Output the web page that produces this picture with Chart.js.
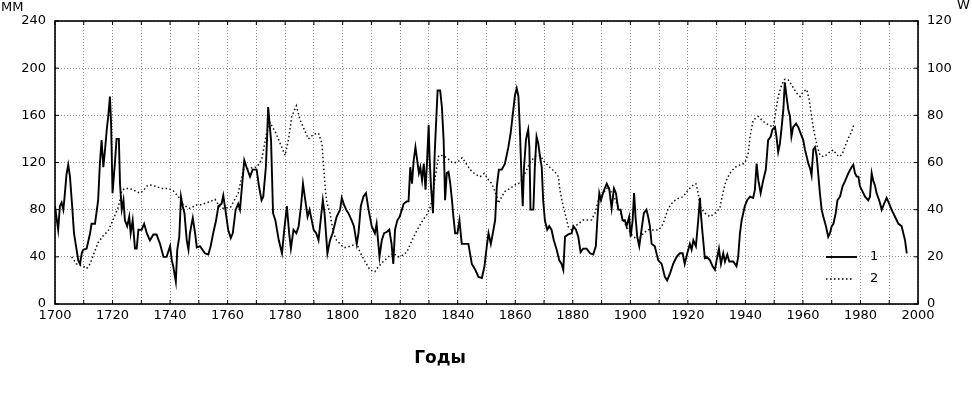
<!DOCTYPE html>
<html>
<head>
<meta charset="utf-8">
<script src="https://cdn.jsdelivr.net/npm/chart.js@4.4.1/dist/chart.umd.min.js"></script>
<style>
  html, body { margin: 0; padding: 0; background: #fff; }
  #wrap { width: 972px; height: 394px; position: relative; }
</style>
</head>
<body>
<div id="wrap"><canvas id="chart"></canvas></div>
<script>
// series 1, MM (left axis)
var years1 = [1700.0,1701.1,1701.7,1702.3,1702.9,1703.3,1704.0,1704.6,1705.2,1706.0,1706.6,1707.3,1708.1,1708.7,1709.3,1709.8,1711.0,1712.2,1712.7,1713.9,
  1715.0,1715.6,1716.2,1716.8,1717.4,1718.0,1718.5,1719.1,1719.5,1720.0,1720.9,1721.4,1722.2,1722.6,1723.2,1723.8,1724.3,1725.1,1725.8,1726.3,
  1727.0,1727.8,1728.4,1729.0,1730.1,1731.0,1731.9,1733.0,1734.2,1735.3,1736.5,1737.7,1738.8,1740.0,1740.6,1741.1,1742.0,1742.5,1743.2,1743.8,
  1744.4,1745.0,1745.8,1746.4,1746.9,1747.9,1748.7,1749.3,1750.4,1752.1,1753.3,1754.1,1755.0,1756.0,1756.8,1757.9,1758.5,1759.4,1760.2,1761.1,
  1761.8,1762.8,1763.7,1764.3,1764.9,1765.8,1766.6,1767.8,1768.7,1770.1,1770.9,1771.8,1772.4,1773.3,1773.7,1774.1,1774.7,1775.1,1775.8,1776.6,
  1777.8,1778.9,1779.7,1780.6,1781.4,1782.0,1782.9,1783.9,1784.7,1785.6,1786.2,1787.0,1787.8,1788.5,1789.9,1790.8,1791.6,1793.1,1793.7,1794.7,
  1795.6,1796.5,1797.9,1799.1,1799.7,1800.5,1801.2,1802.0,1803.1,1803.9,1804.9,1805.5,1806.3,1807.2,1808.1,1809.0,1810.1,1811.2,1811.8,1812.8,
  1813.6,1814.4,1815.3,1816.2,1817.0,1817.6,1818.2,1819.0,1819.8,1820.6,1821.2,1822.3,1822.9,1823.5,1824.1,1824.7,1825.3,1825.9,1826.5,1827.0,
  1827.6,1828.2,1828.8,1829.3,1829.9,1830.2,1830.7,1831.4,1832.0,1832.5,1833.0,1833.9,1834.5,1835.1,1835.6,1836.2,1836.8,1837.4,1838.0,1838.5,
  1839.1,1839.9,1840.6,1841.4,1842.6,1843.7,1844.9,1846.1,1847.2,1848.4,1849.3,1850.1,1850.7,1851.5,1852.2,1853.0,1853.6,1854.3,1855.3,1856.4,
  1857.6,1858.4,1859.1,1859.9,1860.5,1861.1,1861.6,1862.2,1862.6,1863.0,1863.7,1864.2,1864.5,1864.9,1865.3,1866.3,1866.8,1867.4,1868.0,1868.6,
  1869.2,1869.7,1870.3,1871.1,1871.8,1872.6,1873.4,1874.4,1875.3,1876.1,1876.7,1877.3,1878.4,1879.6,1880.2,1881.1,1881.9,1882.7,1883.6,1884.8,
  1886.0,1887.1,1888.0,1888.6,1889.2,1889.8,1890.6,1891.8,1892.7,1893.5,1894.3,1895.0,1895.8,1896.6,1897.3,1898.1,1898.7,1899.6,1900.1,1900.8,
  1901.3,1901.8,1902.4,1903.1,1903.9,1904.7,1905.6,1906.2,1906.8,1907.4,1908.5,1909.7,1910.9,1912.0,1912.8,1913.8,1914.9,1916.1,1917.2,1918.2,
  1918.9,1919.8,1920.7,1921.3,1921.9,1922.8,1923.6,1924.2,1924.5,1925.1,1925.9,1926.5,1927.7,1928.6,1929.4,1930.0,1930.8,1931.5,1932.3,1932.9,
  1933.7,1934.4,1935.8,1936.9,1937.5,1938.1,1938.7,1939.8,1940.6,1941.6,1942.7,1943.3,1943.9,1944.5,1945.3,1946.2,1947.1,1947.9,1948.8,1949.4,
  1950.3,1950.8,1951.4,1952.0,1952.6,1953.2,1953.7,1954.3,1954.9,1955.5,1956.0,1956.6,1957.6,1958.4,1959.0,1960.1,1960.7,1961.9,1962.5,1963.0,
  1963.6,1964.2,1964.8,1965.3,1965.9,1966.5,1967.1,1968.0,1968.8,1969.4,1970.0,1970.6,1971.4,1972.0,1972.9,1973.8,1974.6,1975.8,1976.9,1977.5,
  1978.1,1978.7,1979.3,1979.8,1980.4,1981.6,1982.7,1983.3,1983.9,1984.5,1985.0,1985.6,1986.5,1987.4,1988.2,1989.1,1990.0,1990.8,1992.0,1993.2,
  1994.3,1994.9,1995.5,1996.1];
var mm1 = [83,63,83,86,80,90,110,118,108,82,60,49,37,34,43,46,47,60,68,68,
  88,119,139,116,131,148,159,176,153,94,122,140,140,102,80,88,71,66,74,60,
  71,47,47,63,63,68,60,54,59,59,51,40,40,49,37,32,19,46,57,91,
  83,77,54,46,60,73,60,48,49,43,42,49,60,71,83,85,92,77,63,56,
  60,80,85,80,97,122,116,108,114,114,100,88,91,116,139,167,150,139,77,71,
  54,43,63,83,60,47,63,60,66,85,102,88,74,80,63,60,54,88,77,43,
  54,60,74,80,90,84,80,77,71,66,51,60,83,91,94,80,66,60,68,40,
  54,60,61,63,51,34,63,71,74,80,85,87,87,116,102,122,133,122,111,116,
  105,119,97,119,152,125,100,77,128,155,181,181,167,139,88,111,112,102,88,74,
  60,60,71,51,51,51,34,29,23,22,32,49,60,51,60,71,100,114,114,119,
  133,145,160,177,183,176,148,105,83,114,139,145,148,133,80,80,116,142,136,125,
  116,88,71,63,66,63,54,46,37,34,29,57,59,60,66,63,57,44,47,47,
  43,42,49,74,94,88,95,102,97,81,98,94,80,80,71,71,66,74,57,71,
  94,74,57,49,63,77,80,74,66,51,49,37,34,23,20,26,34,40,43,43,
  34,43,51,46,54,49,71,90,77,60,39,40,37,32,29,37,47,34,43,36,
  42,36,36,32,40,60,71,83,88,91,90,97,119,105,94,105,114,139,142,148,
  150,142,129,136,150,165,188,176,165,159,142,150,153,150,146,139,131,119,115,109,
  131,133,125,111,94,80,74,66,57,60,66,68,77,88,91,100,104,111,116,118,
  111,108,108,100,97,91,88,91,111,104,101,94,88,80,85,90,85,80,74,68,
  66,60,54,43];

// series 2, W (right axis)
var years2 = [1705.8,1707.5,1709.8,1711.0,1712.2,1713.4,1715.0,1716.8,1718.5,1720.3,1722.0,1723.2,1724.3,1726.0,1727.8,1729.5,1730.7,1731.9,1733.0,1734.7,
  1737.0,1739.4,1741.1,1742.9,1744.6,1746.9,1749.2,1750.4,1753.9,1755.6,1757.4,1758.5,1761.0,1763.7,1765.5,1767.8,1770.1,1771.8,1773.5,1774.7,
  1776.6,1778.3,1780.0,1781.2,1782.3,1783.9,1785.2,1787.0,1788.1,1789.9,1791.6,1792.8,1793.4,1794.0,1794.5,1795.6,1796.8,1797.9,1800.3,1801.4,
  1803.7,1804.9,1806.0,1807.8,1809.5,1811.2,1812.4,1814.1,1815.9,1817.6,1819.3,1820.5,1822.3,1824.1,1825.9,1827.6,1829.3,1830.5,1831.1,1832.2,
  1833.4,1834.6,1836.3,1838.0,1839.8,1841.5,1842.7,1844.3,1846.1,1847.8,1849.2,1850.7,1851.9,1852.7,1853.6,1854.1,1855.3,1856.4,1858.2,1859.9,
  1861.1,1862.2,1864.0,1865.1,1866.8,1868.6,1870.3,1872.0,1873.8,1875.0,1875.5,1876.7,1877.6,1878.4,1879.6,1880.7,1881.9,1883.6,1886.5,1887.7,
  1888.9,1890.6,1892.3,1894.1,1895.8,1897.5,1899.3,1901.0,1902.8,1904.5,1906.2,1908.0,1909.9,1911.4,1913.2,1914.9,1916.7,1918.4,1920.1,1921.9,
  1922.8,1923.6,1924.2,1925.9,1927.7,1929.4,1931.1,1932.3,1933.2,1934.6,1936.4,1938.1,1939.8,1941.0,1941.6,1942.7,1944.5,1946.2,1947.9,1949.7,
  1950.6,1951.4,1952.6,1953.7,1954.9,1956.0,1957.8,1959.0,1960.1,1961.3,1962.2,1963.0,1963.6,1964.2,1965.0,1965.9,1967.1,1968.2,1969.4,1970.6,
  1971.7,1972.9,1973.8,1974.6,1975.8,1976.9,1977.7];
var w2 = [20,17,16,15,17,21,26,29,31,36,41,48,49,49,48,47,48,50,50.5,50,
  49,49,48,45.5,42,40.5,42,42,43.4,44.4,41,40.6,41,47,57,57.6,58,61,72,77,
  73,68,63,70,79.5,84,78,73,70,72,72.4,68,58,48,43,38.5,30,27,24,24,
  25,25.7,22,18,14.4,13.7,15.8,18,20,21.5,20,20.4,22,27,31.4,35,38,41.3,44,54,
  63,63,62,60,60,62,60,57,55,54,55.4,52.6,51,48.4,45.5,42.7,45.5,47.7,49,50.5,
  51,52.6,57,60,62.5,63,60,58,56,54,48.4,41.3,37,32.8,31.4,32.8,34,35.6,35.6,38.5,
  44,47,49.8,46,41.3,35.6,31.4,28.6,27,30,31.5,31.4,31.4,34,40.6,43.4,44.8,45.5,48.4,50.5,
  51,47,41.3,38.5,37,38.5,40.6,47.7,52,55.4,58,59,59.7,64,71,78,79.5,77.4,76,75,
  82,88,93,95.3,95,93,89.4,88,90,91,86.6,79.5,75,71,66.8,63.2,62.5,63.2,64.6,65.3,
  63.2,62.5,64,66.8,70.3,73,76];

var legendLabels = ['1', '2'];

function pairs(xs, ys) {
    return xs.map(function (x, i) { return {x: x, y: ys[i]}; });
}

var tickFont = {family: 'DejaVu Sans', size: 13};

// frame, inner ticks, legend and axis captions
var decor = {
    id: 'decor',
    afterDraw: function (chart) {
        var ctx = chart.ctx;
        var a = chart.chartArea;
        var sx = chart.scales.x, sy = chart.scales.y;
        ctx.save();
        ctx.strokeStyle = '#000';
        ctx.lineWidth = 1;
        ctx.beginPath();
        sx.ticks.forEach(function (t) {
            var px = sx.getPixelForValue(t.value);
            ctx.moveTo(px, a.top); ctx.lineTo(px, a.top + 4);
            ctx.moveTo(px, a.bottom); ctx.lineTo(px, a.bottom - 4);
        });
        sy.ticks.forEach(function (t) {
            var py = sy.getPixelForValue(t.value);
            ctx.moveTo(a.left, py); ctx.lineTo(a.left + 4, py);
            ctx.moveTo(a.right, py); ctx.lineTo(a.right - 4, py);
        });
        ctx.stroke();

        ctx.lineWidth = 1.6;
        ctx.strokeRect(a.left, a.top, a.right - a.left, a.bottom - a.top);

        // legend
        var ds = chart.data.datasets;
        var lx = a.right - 92;
        [a.bottom - 47, a.bottom - 25].forEach(function (ly, i) {
            ctx.beginPath();
            ctx.lineWidth = ds[i].borderWidth;
            ctx.setLineDash(ds[i].borderDash || []);
            ctx.moveTo(lx, ly);
            ctx.lineTo(lx + (i === 0 ? 31 : 27), ly);
            ctx.stroke();
            ctx.setLineDash([]);
            ctx.fillStyle = '#000';
            ctx.font = '13px "DejaVu Sans"';
            ctx.textBaseline = 'middle';
            ctx.fillText(legendLabels[i], lx + 44, ly);
        });

        ctx.fillStyle = '#000';
        ctx.textBaseline = 'alphabetic';
        ctx.font = '13px "DejaVu Sans"';
        ctx.fillText('ММ', 1, 11);
        ctx.fillText('W', 957, 9);
        ctx.font = 'bold 17px "DejaVu Sans"';
        ctx.textAlign = 'center';
        ctx.fillText('Годы', 440, 363);
        ctx.restore();
    }
};

new Chart(document.getElementById('chart'), {
    type: 'line',
    data: {
        datasets: [
            {
                label: legendLabels[0],
                data: pairs(years1, mm1),
                yAxisID: 'y',
                borderColor: '#000',
                borderWidth: 1.9,
                pointRadius: 0,
                tension: 0
            },
            {
                label: legendLabels[1],
                data: pairs(years2, w2),
                yAxisID: 'y1',
                borderColor: '#111',
                borderWidth: 1.5,
                borderDash: [1.5, 2.5],
                pointRadius: 0,
                tension: 0
            }
        ]
    },
    options: {
        responsive: true,
        maintainAspectRatio: false,
        animation: false,
        layout: {padding: {top: 21, left: 0, right: 0, bottom: 0}},
        plugins: {legend: {display: false}, tooltip: {enabled: false}},
        scales: {
            x: {
                type: 'linear',
                min: 1700,
                max: 2000,
                afterFit: function (s) { s.height = 90; },
                ticks: {
                    stepSize: 10,
                    autoSkip: false,
                    maxRotation: 0,
                    padding: 4,
                    color: '#000',
                    font: tickFont,
                    callback: function (v) { return v % 20 === 0 ? String(v) : ''; }
                },
                grid: {color: '#888', lineWidth: 1, drawTicks: false},
                border: {display: false, dash: [1, 2]}
            },
            y: {
                position: 'left',
                min: 0,
                max: 240,
                afterFit: function (s) { s.width = 55; },
                ticks: {stepSize: 40, padding: 9, color: '#000', font: tickFont},
                grid: {color: '#888', lineWidth: 1, drawTicks: false},
                border: {display: false, dash: [1, 2]}
            },
            y1: {
                position: 'right',
                min: 0,
                max: 120,
                afterFit: function (s) { s.width = 54; },
                ticks: {stepSize: 20, padding: 9, color: '#000', font: tickFont},
                grid: {drawOnChartArea: false, drawTicks: false},
                border: {display: false}
            }
        }
    },
    plugins: [decor]
});
</script>
</body>
</html>
